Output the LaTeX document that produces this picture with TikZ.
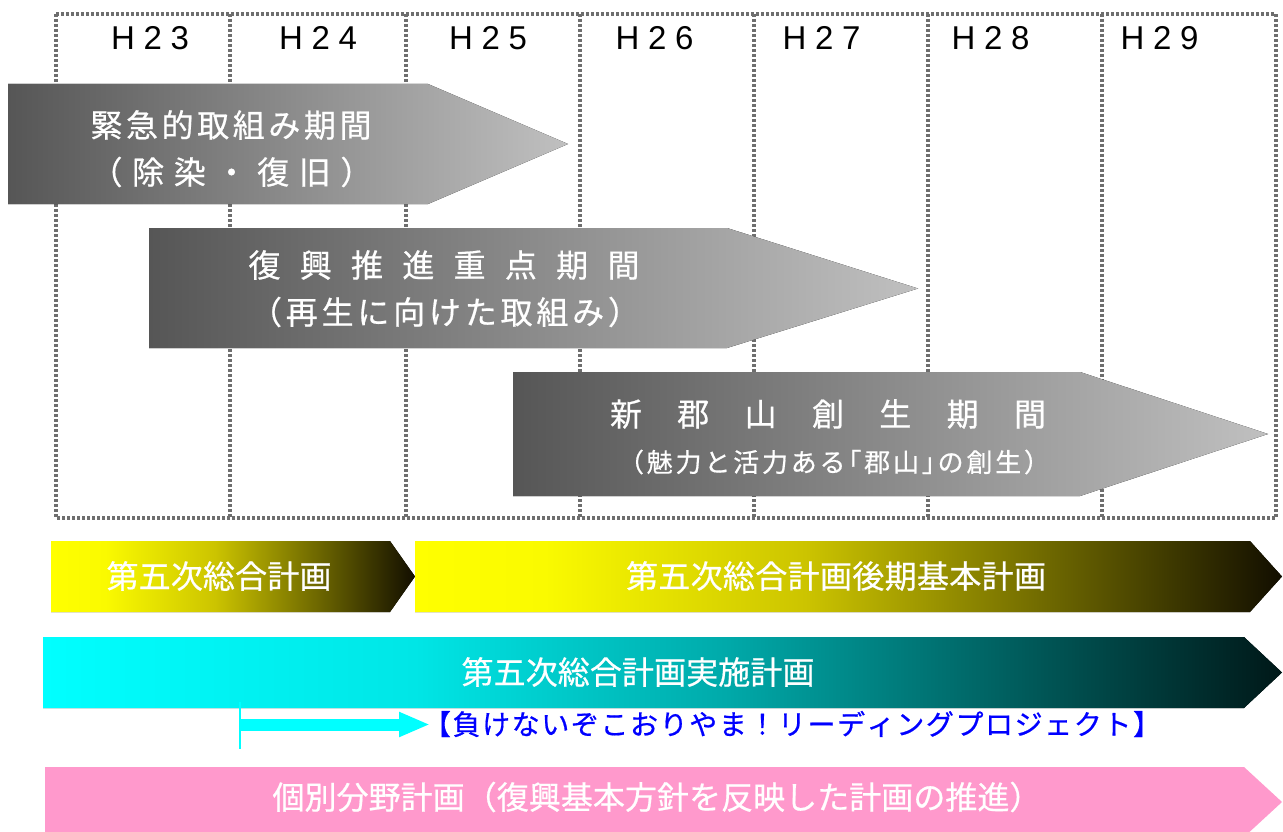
\documentclass[tikz,border=0pt]{standalone}
\usepackage{fontspec}
\setmainfont{Noto Sans CJK JP}
\newfontfamily\jpbold{Noto Sans CJK JP}[FakeBold=0.6]
\newfontfamily\latinfont{Liberation Sans}
\usetikzlibrary{arrows.meta}
\newcommand\spread[2]{\makebox[#1][s]{\spaceskip=0pt plus 1fil\relax #2}}
\definecolor{g1}{HTML}{565656}
\definecolor{g2}{HTML}{C0C0C0}
\definecolor{y0}{HTML}{FFFF00}
\definecolor{y1}{HTML}{FAFA00}
\definecolor{y2}{HTML}{CCC400}
\definecolor{y3}{HTML}{6E6800}
\definecolor{y4}{HTML}{120E00}
\definecolor{c0}{HTML}{00FFFF}
\definecolor{c1}{HTML}{00E6E6}
\definecolor{c2}{HTML}{00AAAA}
\definecolor{c3}{HTML}{005858}
\definecolor{c4}{HTML}{001818}
\definecolor{pinkbar}{HTML}{FF99CC}
\definecolor{gridgray}{HTML}{6E6E6E}
\definecolor{projblue}{HTML}{0000FF}
\pgfdeclarehorizontalshading{grayshade}{100bp}{color(0bp)=(g1); color(25bp)=(g1); color(75bp)=(g2); color(100bp)=(g2)}
\pgfdeclarehorizontalshading{yellowshade}{100bp}{color(0bp)=(y0); color(25bp)=(y0); color(32.5bp)=(y1); color(47.5bp)=(y2); color(61.5bp)=(y3); color(75bp)=(y4); color(100bp)=(y4)}
\pgfdeclarehorizontalshading{cyanshade}{100bp}{color(0bp)=(c0); color(25bp)=(c0); color(40bp)=(c1); color(52.5bp)=(c2); color(65bp)=(c3); color(75bp)=(c4); color(100bp)=(c4)}
\tikzset{
  lab/.style={inner sep=0pt, anchor=center, text=white},
  big/.style={font=\jpbold\fontsize{32}{36}\selectfont},
  hdr/.style={inner sep=0pt, anchor=center, font=\latinfont\fontsize{33}{36}\selectfont},
  gridline/.style={draw=gridgray, line width=3.2pt, dash pattern=on 3pt off 2pt},
  grayarrow/.style={shading=grayshade},
  yellowbar/.style={shading=yellowshade},
  cyanbar/.style={shading=cyanshade},
  pinkshape/.style={fill=pinkbar},
}
\begin{document}
\begin{tikzpicture}[x=1pt,y=-1pt]
\useasboundingbox (0,0) rectangle (1283,832);
\fill[white] (0,0) rectangle (1283,832);
% grid
\draw[gridline] (56,14) rectangle (1276,518);
\foreach \gx in {230,406,580,754,928,1102}{
  \draw[gridline] (\gx,14) -- (\gx,518);
}
% headers
\node[hdr] (h23) at (150,38) {\spread{78pt}{H 2 3}};
\node[hdr] (h24) at (318,38) {\spread{78pt}{H 2 4}};
\node[hdr] (h25) at (488,38) {\spread{78pt}{H 2 5}};
\node[hdr] (h26) at (654.5,38) {\spread{78pt}{H 2 6}};
\node[hdr] (h27) at (821.5,38) {\spread{78pt}{H 2 7}};
\node[hdr] (h28) at (990.5,38) {\spread{78pt}{H 2 8}};
\node[hdr] (h29) at (1159.5,38) {\spread{78pt}{H 2 9}};
% gray period arrows
\fill[grayarrow] (8,84) -- (428,84) -- (568,144) -- (428,204) -- (8,204) -- cycle;
\fill[grayarrow] (149,228) -- (727,228) -- (918,288.5) -- (727,348) -- (149,348) -- cycle;
\fill[grayarrow] (513,372) -- (1080,372) -- (1268,434) -- (1080,496) -- (513,496) -- cycle;
\node[lab,big] (p1a) at (231,125) {\spread{281pt}{緊 急 的 取 組 み 期 間}};
\node[lab,big] (p1b) at (231.5,172) {\spread{282pt}{（ 除 染 ・ 復 旧 ）}};
\node[lab,big] (p2a) at (444,265) {\spread{391pt}{復 興 推 進 重 点 期 間}};
\node[lab,big] (p2b) at (445,312) {\spread{390pt}{（ 再 生 に 向 け た 取 組 み ）}};
\node[lab,big] (p3a) at (828,414) {\spread{436pt}{新 郡 山 創 生 期 間}};
\node[lab,font=\jpbold\fontsize{26}{30}\selectfont] (p3b) at (834,462) {\spread{432pt}{（ 魅 力 と 活 力 あ る ｢ 郡 山 ｣ の 創 生 ）}};
% plan bars
\fill[yellowbar] (51,541) -- (390,541) -- (415,576.5) -- (390,612) -- (51,612) -- cycle;
\fill[yellowbar] (415,541) -- (1250,541) -- (1282,576.5) -- (1250,612) -- (415,612) -- cycle;
\fill[cyanbar] (43,637) -- (1244,637) -- (1282,672.5) -- (1244,708) -- (43,708) -- cycle;
\fill[pinkshape] (45,767) -- (1244,767) -- (1282,802) -- (1244,837) -- (45,837) -- cycle;
\node[lab,big] (b1) at (219,576) {\spread{225pt}{第 五 次 総 合 計 画}};
\node[lab,big] (b2) at (836,576) {\spread{420pt}{第 五 次 総 合 計 画 後 期 基 本 計 画}};
\node[lab,big] (b3) at (638,672) {\spread{353pt}{第 五 次 総 合 計 画 実 施 計 画}};
\node[lab,font=\jpbold\fontsize{28}{32}\selectfont,text=projblue] (proj) at (792,724) {\spread{738pt}{【 負 け な い ぞ こ お り や ま ！ リ ー デ ィ ン グ プ ロ ジ ェ ク ト 】}};
\node[lab,big] (b4) at (657,797) {\spread{769pt}{個 別 分 野 計 画 （ 復 興 基 本 方 針 を 反 映 し た 計 画 の 推 進 ）}};
% leading project marker arrow
\coordinate (vtop) at (240,702);
\coordinate (vbot) at (240,749);
\coordinate (ls) at (240,724.5);
\coordinate (le) at (430,724.5);
\draw[draw=c0, line width=1.6pt] (vtop) -- (vbot);
\draw[draw=c0, line width=12pt, -{Triangle[length=31pt,width=23pt]}] (ls) -- (le);
\end{tikzpicture}
\end{document}
